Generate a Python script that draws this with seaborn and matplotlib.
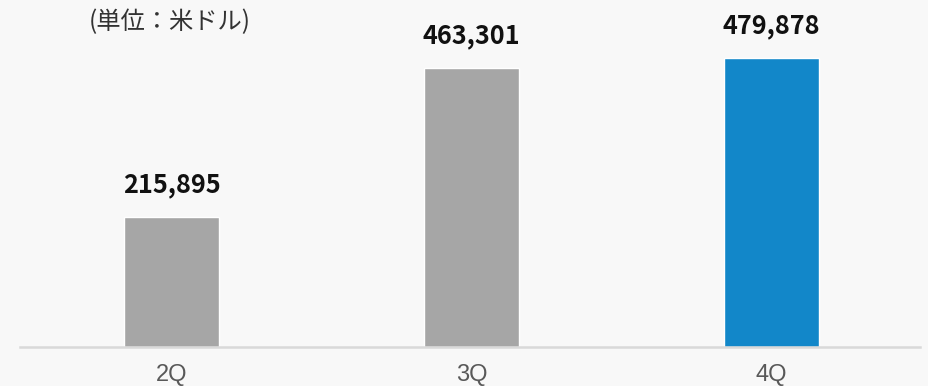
import matplotlib
matplotlib.use("Agg")
import matplotlib.pyplot as plt
import seaborn as sns
import pandas as pd

categories = ["2Q", "3Q", "4Q"]
values = [215895, 463301, 479878]
bar_colors = ["#a6a6a6", "#a6a6a6", "#1287c9"]
value_labels = ["215,895", "463,301", "479,878"]
unit_label = "(単位：米ドル)"

sns.set_theme(style="white")
plt.rcParams['font.family'] = ['Noto Sans CJK JP', 'DejaVu Sans']

bg = "#f8f8f8"
fig = plt.figure(figsize=(9.29, 3.86), dpi=100, facecolor=bg)
ax = fig.add_axes([20/929, 39/386, 900/929, 347/386])
ax.set_facecolor(bg)

df = pd.DataFrame({"q": categories, "v": values})
sns.barplot(data=df, x="q", y="v", hue="q", palette=dict(zip(categories, bar_colors)),
            width=0.317, legend=False, ax=ax, saturation=1)

ax.set_xlim(-0.505, 2.495)
ax.set_ylim(0, 576400)
for s in ["top", "right", "left"]:
    ax.spines[s].set_visible(False)
ax.spines["bottom"].set_color("#d9d9d9")
ax.spines["bottom"].set_linewidth(1.8)
ax.set_yticks([])
ax.set_xlabel("")
ax.set_ylabel("")
ax.tick_params(axis="x", length=0, pad=12, labelsize=17, labelcolor="#595959")
for t in ax.get_xticklabels():
    t.set_fontfamily(["Liberation Sans", "DejaVu Sans"])

for i, (v, lab) in enumerate(zip(values, value_labels)):
    ax.annotate(lab, (i, v), xytext=(0, 13.5), textcoords="offset points",
                ha="center", va="bottom", fontsize=18.2, fontweight="bold", color="#111111")

fig.text(170/929, 1 - 22/386, unit_label, ha="center", va="center", fontsize=17.5, color="#333333")

fig.savefig("out.png", dpi=100, facecolor=bg)
